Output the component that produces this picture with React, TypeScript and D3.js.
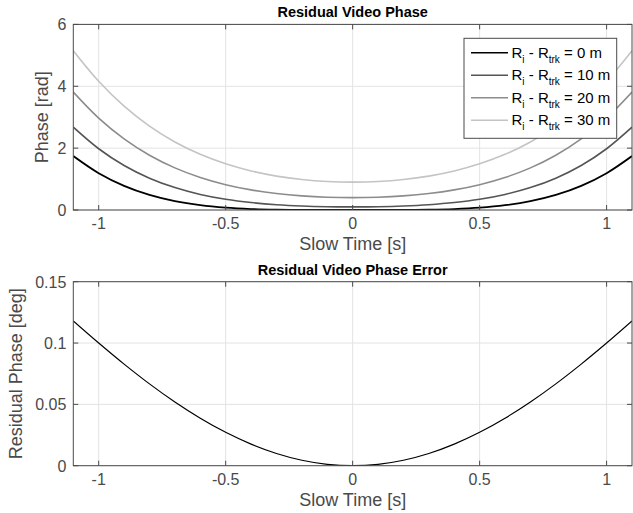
import React from "react";
import * as d3 from "d3";

const times = [-1.1, -1.0, -0.9, -0.8, -0.7, -0.6, -0.5, -0.4, -0.3, -0.2, -0.1, 0, 0.1, 0.2, 0.3, 0.4, 0.5, 0.6, 0.7, 0.8, 0.9, 1.0, 1.1];
const half0 = [0, 0.0001, 0.0019, 0.0096, 0.0305, 0.0744, 0.1543, 0.2858, 0.4875, 0.7809, 1.19, 1.743];
const half10 = [0.1, 0.107, 0.1295, 0.1717, 0.2409, 0.3469, 0.5027, 0.7239, 1.0291, 1.4398, 1.9803, 2.6775];
const half20 = [0.4, 0.4139, 0.4571, 0.5338, 0.6513, 0.8194, 1.0511, 1.362, 1.7707, 2.2987, 2.9703, 3.8124];
const half30 = [0.9, 0.9208, 0.9847, 1.0959, 1.2617, 1.4919, 1.7995, 2.2001, 2.7123, 3.3576, 4.1603, 5.1474];
const halfErr = [0, 0.00112, 0.00445, 0.00997, 0.01759, 0.0272, 0.03872, 0.05195, 0.06672, 0.08282, 0.1, 0.118];

const mirror = (h: number[]) => [...h.slice(1).reverse(), ...h];
const phase0 = mirror(half0);
const phase10 = mirror(half10);
const phase20 = mirror(half20);
const phase30 = mirror(half30);
const phaseErr = mirror(halfErr);

const offsets = ["0", "10", "20", "30"];
const seriesColors = ["#000000", "#555555", "#8c8c8c", "#c4c4c4"];
const xTicks = [-1, -0.5, 0, 0.5, 1];
const yTicksTop = [0, 2, 4, 6];
const yTicksBot = [0, 0.05, 0.1, 0.15];

const W = 633, H = 513;
const L = 73.3, R = 632;
const FONT = "'Liberation Sans', Arial, Helvetica, sans-serif";
const AX = "#4a4a4a";
const GRID = "#e3e3e3";

function Panel({ top, bottom, yDomain, yTicks, series, colors, widths, title, ylabel, ylabelX, legend }: any) {
  const x = d3.scaleLinear().domain([-1.1, 1.1]).range([L, R]);
  const y = d3.scaleLinear().domain(yDomain).range([bottom, top]);
  const line = d3.line<number>().x((_, i) => x(times[i])).y((d) => y(d)).curve(d3.curveCatmullRom.alpha(0.5));
  const tl = 5;
  return (
    <g>
      {xTicks.map((t) => (
        <line key={"gx" + t} x1={x(t)} x2={x(t)} y1={top} y2={bottom} stroke={GRID} strokeWidth={1} />
      ))}
      {yTicks.map((t: number) => (
        <line key={"gy" + t} x1={L} x2={R} y1={y(t)} y2={y(t)} stroke={GRID} strokeWidth={1} />
      ))}
      <g clipPath={`url(#clip${top})`}>
        {series.map((s: number[], i: number) => (
          <path key={i} d={line(s) || ""} fill="none" stroke={colors[i]} strokeWidth={widths[i]} />
        ))}
      </g>
      <defs>
        <clipPath id={`clip${top}`}>
          <rect x={L} y={top} width={R - L} height={bottom - top} />
        </clipPath>
      </defs>
      <rect x={L} y={top} width={R - L} height={bottom - top} fill="none" stroke={AX} strokeWidth={1} />
      {xTicks.map((t) => (
        <g key={"tx" + t}>
          <line x1={x(t)} x2={x(t)} y1={bottom} y2={bottom - tl} stroke={AX} />
          <line x1={x(t)} x2={x(t)} y1={top} y2={top + tl} stroke={AX} />
          <text x={x(t)} y={bottom + 19} textAnchor="middle" fontSize={16} fill={AX} fontFamily={FONT}>
            {t}
          </text>
        </g>
      ))}
      {yTicks.map((t: number) => (
        <g key={"ty" + t}>
          <line x1={L} x2={L + tl} y1={y(t)} y2={y(t)} stroke={AX} />
          <line x1={R} x2={R - tl} y1={y(t)} y2={y(t)} stroke={AX} />
          <text x={L - 7} y={y(t) + 6} textAnchor="end" fontSize={16} fill={AX} fontFamily={FONT}>
            {t}
          </text>
        </g>
      ))}
      <text x={(L + R) / 2} y={bottom + 40} textAnchor="middle" fontSize={18} fill={AX} fontFamily={FONT}>
        Slow Time [s]
      </text>
      <text x={(L + R) / 2} y={top - 7} textAnchor="middle" fontSize={14.5} fontWeight="bold" fill="#000" fontFamily={FONT}>
        {title}
      </text>
      <text transform={`translate(${ylabelX},${(top + bottom) / 2}) rotate(-90)`} textAnchor="middle" fontSize={18} fill={AX} fontFamily={FONT}>
        {ylabel}
      </text>
      {legend}
    </g>
  );
}

function Legend() {
  const x0 = 464, y0 = 38.3, w = 152.7, h = 100;
  const rows = [52.7, 75.2, 97.7, 120.2];
  return (
    <g>
      <rect x={x0} y={y0} width={w} height={h} fill="#fff" stroke={AX} strokeWidth={1} />
      {offsets.map((o, i) => (
        <g key={o}>
          <line x1={471} x2={508} y1={rows[i]} y2={rows[i]} stroke={seriesColors[i]} strokeWidth={1.6} />
          <text x={511.5} y={rows[i] + 5} fontSize={15} fill="#000" fontFamily={FONT}>
            R<tspan fontSize={10} dy={5}>i</tspan>
            <tspan dy={-5}> - R</tspan>
            <tspan fontSize={10} dy={5}>trk</tspan>
            <tspan dy={-5}>{` = ${o} m`}</tspan>
          </text>
        </g>
      ))}
    </g>
  );
}

export default function App() {
  return (
    <svg width={W} height={H} style={{ position: "absolute", left: 0, top: 0, background: "#fff" }}>
      <rect width={W} height={H} fill="#fff" />
      <Panel
        top={24.4}
        bottom={210}
        yDomain={[0, 6]}
        yTicks={yTicksTop}
        series={[phase30, phase20, phase10, phase0]}
        colors={[seriesColors[3], seriesColors[2], seriesColors[1], seriesColors[0]]}
        widths={[1.6, 1.6, 1.6, 1.8]}
        title="Residual Video Phase"
        ylabel="Phase [rad]"
        ylabelX={48}
        legend={<Legend />}
      />
      <Panel
        top={281.7}
        bottom={465.7}
        yDomain={[0, 0.15]}
        yTicks={yTicksBot}
        series={[phaseErr]}
        colors={["#000"]}
        widths={[1.2]}
        title="Residual Video Phase Error"
        ylabel="Residual Phase [deg]"
        ylabelX={22}
        legend={null}
      />
    </svg>
  );
}
